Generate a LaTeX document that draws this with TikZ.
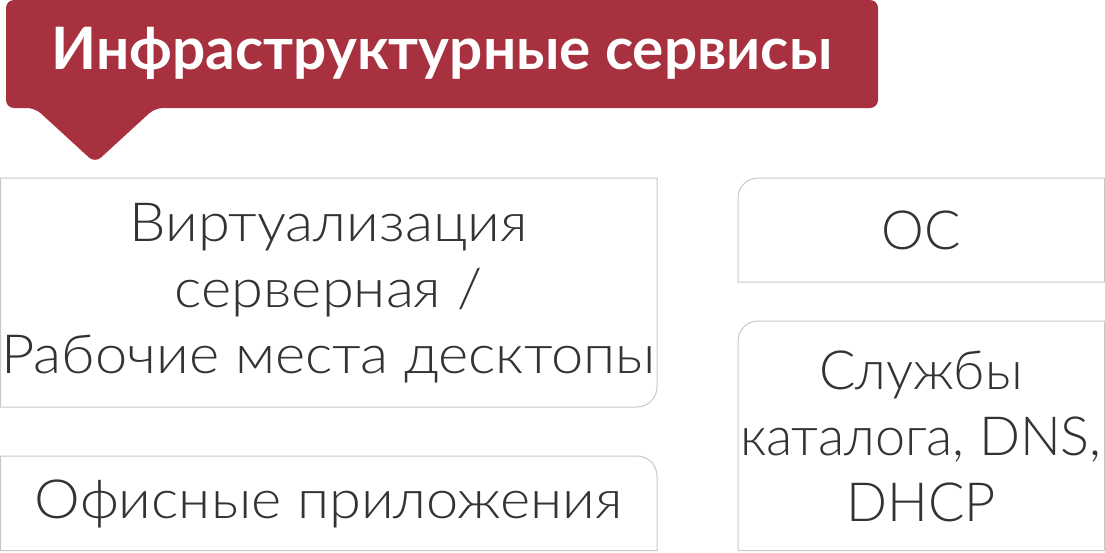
\documentclass[tikz,border=0pt]{standalone}
\usepackage{fontspec}
\setmainfont{Lato}
\newfontfamily\thinfont{Lato Light}
\newfontfamily\widefont{Lato Light}[FakeStretch=1.07]
\definecolor{infred}{HTML}{A8313F}
\definecolor{boxgray}{HTML}{C8C8C8}
\definecolor{txtgray}{HTML}{333333}
\tikzset{
  box/.style={draw=boxgray, line width=1pt},
  boxtext/.style={text=txtgray, align=center, inner sep=0pt,
    font=\thinfont\fontsize{54}{66}\selectfont},
  widetext/.style={boxtext, font=\widefont\fontsize{54}{66}\selectfont},
  titletext/.style={text=white, inner sep=0pt,
    font=\bfseries\fontsize{58.5}{66}\selectfont}
}
\begin{document}
\begin{tikzpicture}[x=1pt, y=-1pt]
    \useasboundingbox (0,0) rectangle (1105,552);
    % header with pointer
    \fill[infred, rounded corners=8pt] (6,0) -- (878,0) -- (878,108) -- (155,108) -- (95,163) -- (35,108) -- (6,108) -- cycle;
    \node[titletext] (title) at (442,53.5) {Инфраструктурные сервисы};

    % left column
    \draw[box] (0.5,178) -- (657,178) -- (657,387) arc[start angle=0, end angle=90, radius=20] -- (0.5,407) -- cycle;
    \node[widetext] (virt) at (328.5,293) {Виртуализация\\серверная /\\Рабочие места десктопы};
    \draw[box] (0.5,456) -- (637,456) arc[start angle=-90, end angle=0, radius=20] -- (657,550.5) -- (0.5,550.5) -- cycle;
    \node[widetext] (office) at (328.5,504) {Офисные приложения};

    % right column
    \draw[box] (738,198) arc[start angle=180, end angle=270, radius=20] -- (1104.5,178) -- (1104.5,282) -- (738,282) -- cycle;
    \node[boxtext] (os) at (921,230) {ОС};
    \draw[box] (738,341) arc[start angle=180, end angle=270, radius=20] -- (1104.5,321) -- (1104.5,550.5) -- (738,550.5) -- cycle;
    \node[boxtext] (dirsvc) at (921,436) {Службы\\каталога, DNS,\\DHCP};
\end{tikzpicture}
\end{document}
